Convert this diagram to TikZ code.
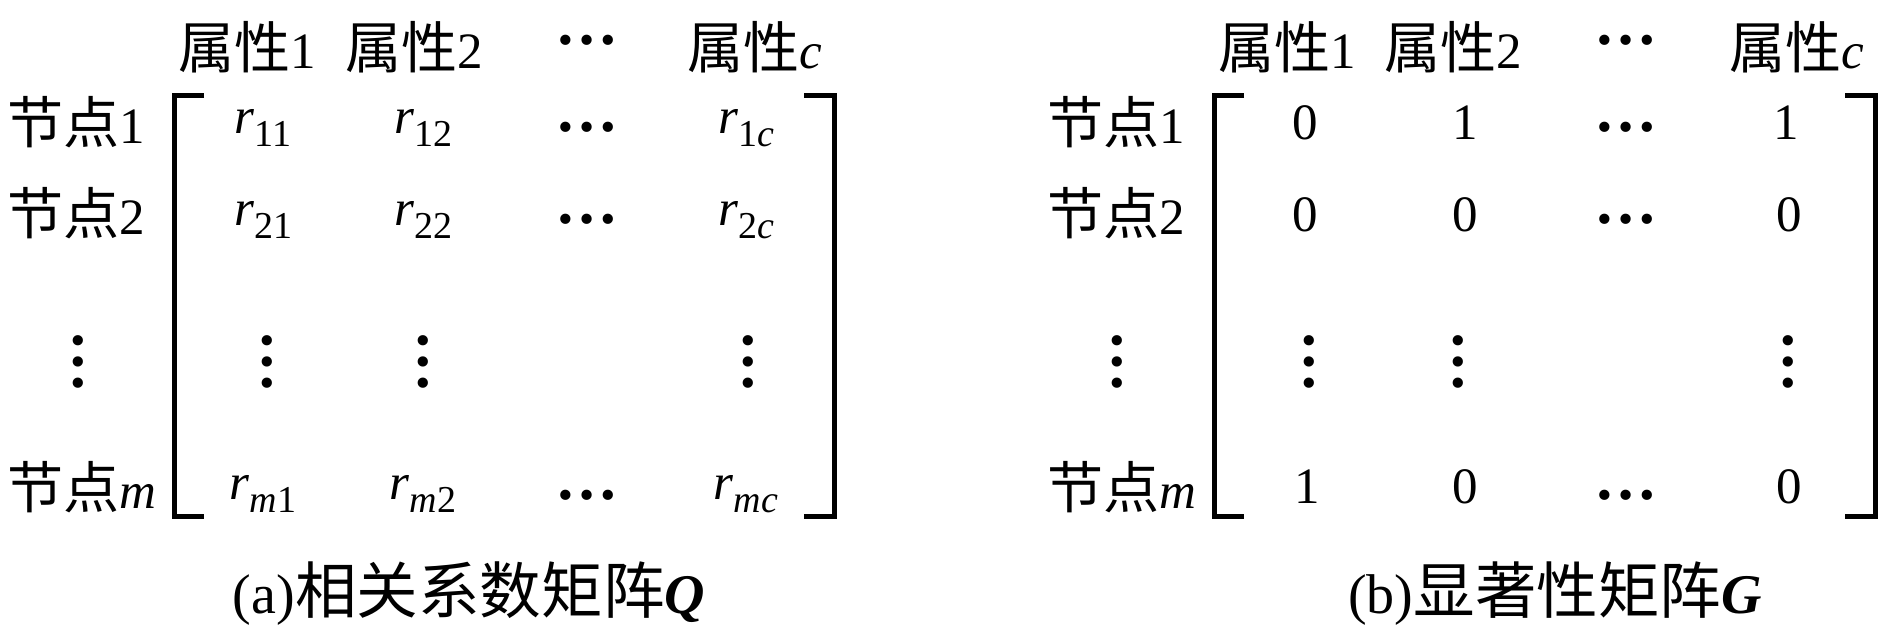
\documentclass[tikz,border=0pt]{standalone}
\usepackage{fontspec}
\setmainfont{Liberation Serif}
\newfontfamily\cjk[Scale=1.10]{Noto Sans CJK SC}
\usepackage{tikz}

\newcommand{\rcoef}[1]{\textit{r}\raisebox{-6.5pt}{\fontsize{19}{19}\selectfont #1}}

\begin{document}
\begin{tikzpicture}[x=0.5pt,y=-0.5pt,
  txt/.style={inner sep=0pt,anchor=base,font=\fontsize{25.5}{27}\selectfont},
  lbl/.style={inner sep=0pt,anchor=base west,font=\fontsize{25.5}{27}\selectfont},
  dotsh/.style={inner sep=0pt,anchor=center,font=\bfseries\fontsize{31.5}{32}\selectfont},
  dotsv/.style={dotsh,rotate=90},
  captxt/.style={inner sep=0pt,anchor=base,font=\fontsize{28}{30}\selectfont},
  brk/.style={line width=2.5pt,line join=miter}]
\useasboundingbox (0,0) rectangle (1879,633);
% (a) correlation matrix
\node[txt] (qh1) at (247,68) {{\cjk 属性}1};
\node[txt] (qh2) at (414,68) {{\cjk 属性}2};
\node[dotsh] (qh3) at (587,40) {…};
\node[txt] (qhc) at (755,68) {{\cjk 属性}\textit{c}};
\node[lbl] (ql1) at (7,143) {{\cjk 节点}1};
\node[lbl] (ql2) at (7,234) {{\cjk 节点}2};
\node[dotsv] (qlv) at (78,362) {…};
\node[lbl] (qlm) at (7,508) {{\cjk 节点}\textit{m}};
\node[txt] (q11) at (263,133) {\rcoef{11}};
\node[txt] (q12) at (423,133) {\rcoef{12}};
\node[dotsh] (q13) at (587,127) {…};
\node[txt] (q1c) at (746,133) {\rcoef{1\textit{c}}};
\node[txt] (q21) at (263,225) {\rcoef{21}};
\node[txt] (q22) at (423,225) {\rcoef{22}};
\node[dotsh] (q23) at (587,219) {…};
\node[txt] (q2c) at (746,225) {\rcoef{2\textit{c}}};
\node[dotsv] (qv1) at (267,362) {…};
\node[dotsv] (qv2) at (423,362) {…};
\node[dotsv] (qvc) at (748,362) {…};
\node[txt] (qm1) at (263,499) {\rcoef{\textit{m}1}};
\node[txt] (qm2) at (423,499) {\rcoef{\textit{m}2}};
\node[dotsh] (qm3) at (587,495) {…};
\node[txt] (qmc) at (746,499) {\rcoef{\textit{mc}}};
\draw[brk] (204,95) -- (174,95) -- (174,516) -- (204,516);
\draw[brk] (804,95) -- (834,95) -- (834,516) -- (804,516);
\node[captxt] (qcap) at (469,613) {(a){\cjk 相关系数矩阵}\textbf{\textit{Q}}};
% (b) significance matrix
\node[txt] (gh1) at (1287,68) {{\cjk 属性}1};
\node[txt] (gh2) at (1453,68) {{\cjk 属性}2};
\node[dotsh] (gh3) at (1626,40) {…};
\node[txt] (ghc) at (1797,68) {{\cjk 属性}\textit{c}};
\node[lbl] (gl1) at (1047,143) {{\cjk 节点}1};
\node[lbl] (gl2) at (1047,234) {{\cjk 节点}2};
\node[dotsv] (glv) at (1117,362) {…};
\node[lbl] (glm) at (1047,508) {{\cjk 节点}\textit{m}};
\node[txt] (g11) at (1305,139) {0};
\node[txt] (g12) at (1465,139) {1};
\node[dotsh] (g13) at (1626,127) {…};
\node[txt] (g1c) at (1786,139) {1};
\node[txt] (g21) at (1305,231) {0};
\node[txt] (g22) at (1465,231) {0};
\node[dotsh] (g23) at (1626,219) {…};
\node[txt] (g2c) at (1789,231) {0};
\node[dotsv] (gv1) at (1309,362) {…};
\node[dotsv] (gv2) at (1458,362) {…};
\node[dotsv] (gvc) at (1788,362) {…};
\node[txt] (gm1) at (1307,503) {1};
\node[txt] (gm2) at (1465,503) {0};
\node[dotsh] (gm3) at (1626,495) {…};
\node[txt] (gmc) at (1789,503) {0};
\draw[brk] (1244,95) -- (1214,95) -- (1214,516) -- (1244,516);
\draw[brk] (1845,95) -- (1875,95) -- (1875,516) -- (1845,516);
\node[captxt] (gcap) at (1555,613) {(b){\cjk 显著性矩阵}\textbf{\textit{G}}};
\end{tikzpicture}
\end{document}
